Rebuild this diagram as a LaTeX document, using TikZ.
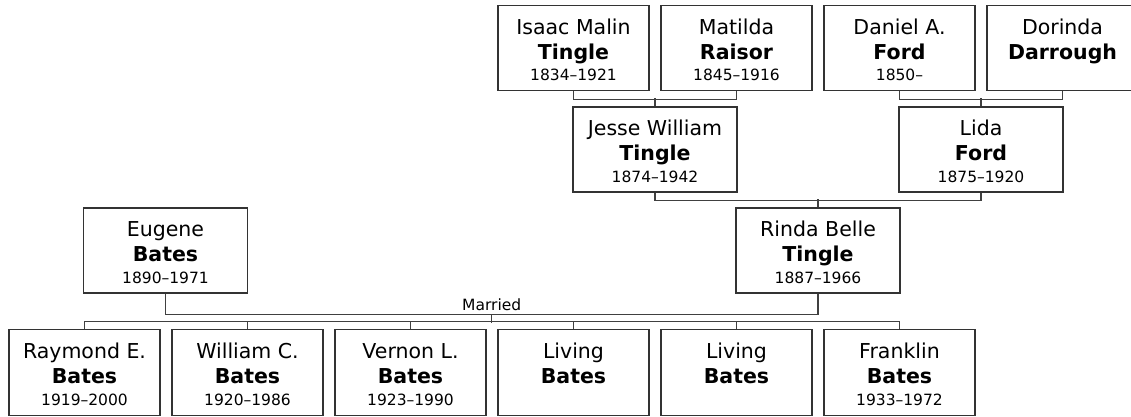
\documentclass[tikz,border=0pt]{standalone}
\usepackage{fontspec}
\setmainfont{DejaVu Sans}
\usetikzlibrary{calc}
\tikzset{
  pbox/.style={draw=black!80, line width=1.2pt, fill=white, minimum width=151pt, minimum height=85.5pt, inner sep=0pt},
  wbox/.style={pbox, minimum width=164pt, minimum height=85pt},
  firstname/.style={anchor=base, inner sep=0pt, font=\fontsize{20.5}{24}\selectfont},
  lastname/.style={anchor=base, inner sep=0pt, font=\fontsize{20.5}{24}\selectfont\bfseries},
  dates/.style={anchor=base, inner sep=0pt, font=\fontsize{15.5}{18}\selectfont},
  conn/.style={draw=black!75, line width=1.2pt},
}
\newcommand\pers[6]{%
  \node[#2] (#1) at (#3) {};
  \node[firstname] (#1-f) at ($(#1.north)+(0,29.5)$) {#4};
  \node[lastname] (#1-l) at ($(#1.north)+(0,54.5)$) {#5};
  \node[dates] (#1-d) at ($(#1.north)+(0,76)$) {#6};
}
\begin{document}
\begin{tikzpicture}[x=1pt, y=-1pt]
\clip (0,0) rectangle (1131,416);
\fill[white] (0,0) rectangle (1131,416);
% top generation
\pers{isaac}{pbox}{573.5,48}{Isaac Malin}{Tingle}{1834–1921}
\pers{matilda}{pbox}{736.5,48}{Matilda}{Raisor}{1845–1916}
\pers{daniel}{pbox}{899.5,48}{Daniel A.}{Ford}{1850–}
\pers{dorinda}{pbox}{1062.5,48}{Dorinda}{Darrough}{}
% second generation
\pers{jesse}{wbox}{655,149.5}{Jesse William}{Tingle}{1874–1942}
\pers{lida}{wbox}{981,149.5}{Lida}{Ford}{1875–1920}
% couple
\pers{eugene}{wbox}{165.5,250.5}{Eugene}{Bates}{1890–1971}
\pers{rinda}{wbox}{818,250.5}{Rinda Belle}{Tingle}{1887–1966}
% children
\pers{raymond}{pbox}{84.5,372.5}{Raymond E.}{Bates}{1919–2000}
\pers{william}{pbox}{247.5,372.5}{William C.}{Bates}{1920–1986}
\pers{vernon}{pbox}{410.5,372.5}{Vernon L.}{Bates}{1923–1990}
\pers{living1}{pbox}{573.5,372.5}{Living}{Bates}{}
\pers{living2}{pbox}{736.5,372.5}{Living}{Bates}{}
\pers{franklin}{pbox}{899.5,372.5}{Franklin}{Bates}{1933–1972}
% connectors
\draw[conn] (isaac.south) -- ++(0,8) -| (matilda.south);
\draw[conn] (jesse.north) -- ++(0,-8);
\draw[conn] (daniel.south) -- ++(0,8) -| (dorinda.south);
\draw[conn] (lida.north) -- ++(0,-8);
\draw[conn] (jesse.south) -- ++(0,8) -| (lida.south);
\draw[conn] (rinda.north) -- ++(0,-8);
\draw[conn] (eugene.south) -- ++(0,21) -| (rinda.south);
\coordinate (m) at ($(eugene.south)!0.5!(rinda.south)+(0,21)$);
\node[anchor=base, inner sep=0pt, font=\fontsize{15.5}{18}\selectfont] (married) at ($(m)+(0,-4.5)$) {Married};
\draw[conn] (m) -- ++(0,8);
\draw[conn] (raymond.north) -- ++(0,-8) -| (franklin.north);
\foreach \c in {william,vernon,living1,living2} \draw[conn] (\c.north) -- ++(0,-8);
\end{tikzpicture}
\end{document}
